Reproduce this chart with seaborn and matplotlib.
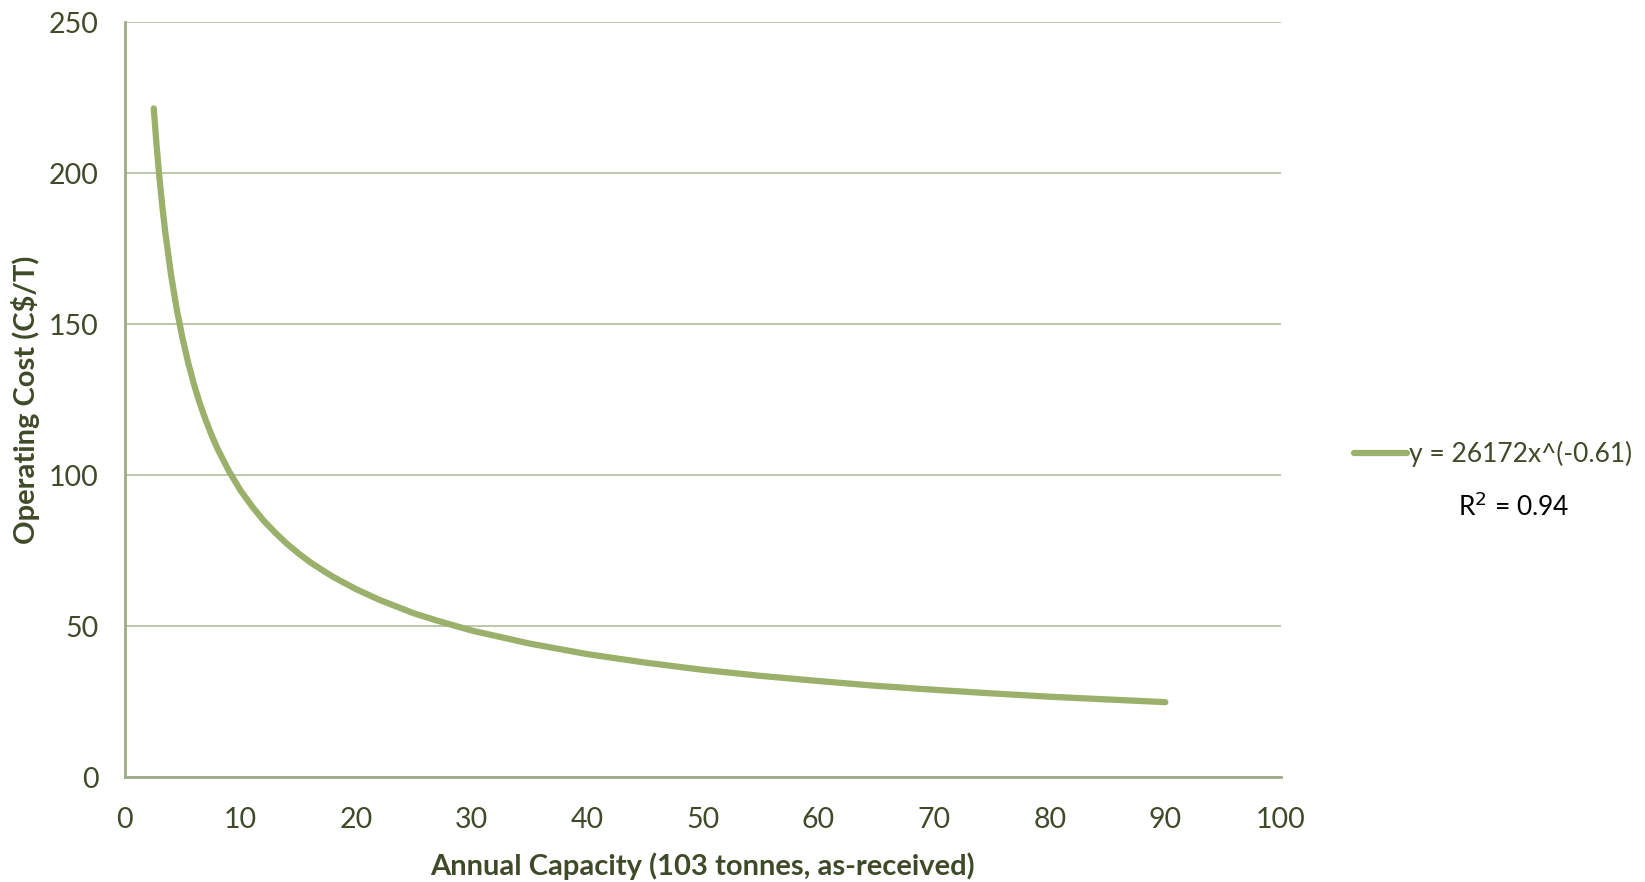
import matplotlib
matplotlib.use("Agg")
import matplotlib.pyplot as plt
import pandas as pd
import seaborn as sns

# values (capacity in 10^3 t, cost in C$/T)
capacity = [2.5, 2.75, 3, 3.25, 3.5, 4, 4.5, 5, 5.5, 6, 6.5, 7, 7.5, 8, 9,
            10, 11, 12, 13, 14, 15, 16, 17, 18, 20, 22, 25, 27, 30, 35, 40,
            45, 50, 55, 60, 65, 70, 75, 80, 85, 90]
op_cost = [221.4, 208.9, 198.1, 188.7, 180.3, 166.2, 154.7, 145.1, 136.9,
           129.8, 123.6, 118.2, 113.3, 108.9, 101.4, 95.0, 89.7, 85.0, 81.0,
           77.4, 74.2, 71.3, 68.8, 66.4, 62.3, 58.8, 54.3, 51.9, 48.6, 44.3,
           40.8, 38.0, 35.6, 33.6, 31.9, 30.3, 29.0, 27.8, 26.7, 25.8, 24.9]
fit_label = "y = 26172x^(-0.61)"
r2_label = "R$^2$ = 0.94"

x_ticks = [0, 10, 20, 30, 40, 50, 60, 70, 80, 90, 100]
y_ticks = [0, 50, 100, 150, 200, 250]

line_color = "#9BB06A"
axis_color = "#9CAB84"
grid_color = "#B7C3A3"
text_color = "#3F4A28"

sns.set_theme(style="white")
plt.rcParams["font.family"] = ["Lato", "DejaVu Sans"]

df = pd.DataFrame({"capacity": capacity, "cost": op_cost})

fig = plt.figure(figsize=(16.45, 8.82), dpi=100)
ax = fig.add_axes([0.0759, 0.1186, 0.7028, 0.8564])

sns.lineplot(data=df, x="capacity", y="cost", ax=ax, color=line_color,
             linewidth=4.5, solid_capstyle="round", label=fit_label)

ax.set_xlim(0, 100)
ax.set_ylim(0, 250)
ax.set_xticks(x_ticks)
ax.set_yticks(y_ticks)
ax.yaxis.grid(True, color=grid_color, linewidth=1.3)
ax.set_axisbelow(True)
for s in ["top", "right"]:
    ax.spines[s].set_visible(False)
for s in ["left", "bottom"]:
    ax.spines[s].set_color(axis_color)
    ax.spines[s].set_linewidth(2)
ax.tick_params(axis="both", length=0, labelsize=20.5, labelcolor=text_color)
ax.tick_params(axis="x", pad=21)
ax.tick_params(axis="y", pad=19)

ax.set_xlabel("Annual Capacity (103 tonnes, as-received)", fontsize=21,
              fontweight="bold", color=text_color, labelpad=14)
ax.set_ylabel("Operating Cost (C$/T)", fontsize=21, fontweight="bold",
              color=text_color, labelpad=6)

leg = ax.legend(loc="center left", bbox_to_anchor=(0.815, 0.485),
                bbox_transform=fig.transFigure, frameon=False, fontsize=19,
                handlelength=2.0, handletextpad=0.1, borderpad=0)
for t in leg.get_texts():
    t.set_color(text_color)
fig.text(0.92, 0.426, r2_label, fontsize=19, color="black", ha="center",
         va="center")

fig.savefig("out.png", dpi=100)
